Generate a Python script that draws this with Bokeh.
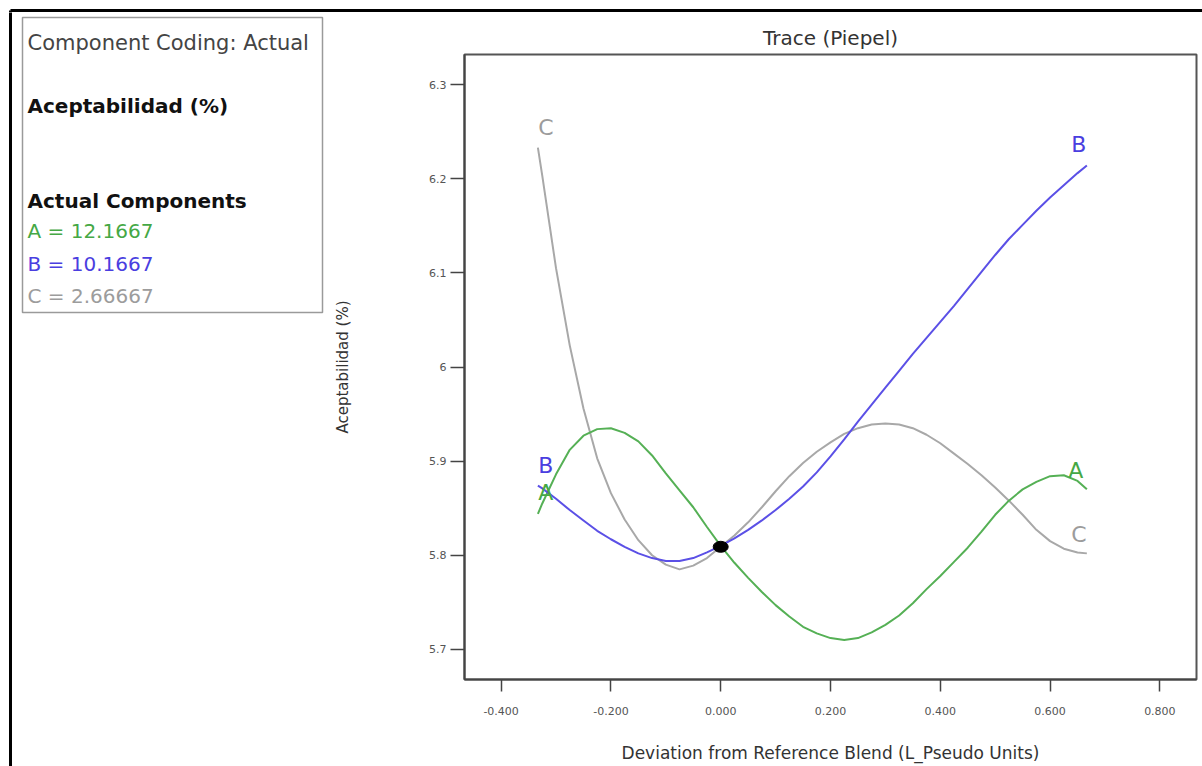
from bokeh.plotting import figure
from bokeh.layouts import column, row
from bokeh.models import (FixedTicker, PrintfTickFormatter, CustomJSTickFormatter,
                          Range1d, ColumnDataSource)
from bokeh.core.properties import value
from bokeh.embed import file_html
from bokeh.resources import INLINE

# ---------------- data ----------------
x_dev = [-0.333, -0.325, -0.300, -0.275, -0.250, -0.225, -0.200, -0.175, -0.150, -0.125,
         -0.100, -0.075, -0.050, -0.025, 0.000, 0.025, 0.050, 0.075, 0.100, 0.125,
         0.150, 0.175, 0.200, 0.225, 0.250, 0.275, 0.300, 0.325, 0.350, 0.375,
         0.400, 0.425, 0.450, 0.475, 0.500, 0.525, 0.550, 0.575, 0.600, 0.625,
         0.650, 0.667]
resp_A = [5.844, 5.855, 5.886, 5.912, 5.927, 5.934, 5.935, 5.930, 5.921, 5.906,
          5.887, 5.869, 5.851, 5.830, 5.810, 5.792, 5.776, 5.761, 5.747, 5.735,
          5.724, 5.717, 5.712, 5.710, 5.712, 5.718, 5.726, 5.736, 5.749, 5.764,
          5.778, 5.793, 5.808, 5.825, 5.843, 5.858, 5.870, 5.878, 5.884, 5.885,
          5.879, 5.870]
resp_B = [5.874, 5.871, 5.860, 5.848, 5.837, 5.826, 5.817, 5.809, 5.802, 5.797,
          5.794, 5.794, 5.797, 5.803, 5.810, 5.818, 5.827, 5.837, 5.848, 5.860,
          5.873, 5.888, 5.905, 5.923, 5.942, 5.960, 5.978, 5.996, 6.014, 6.031,
          6.048, 6.065, 6.083, 6.101, 6.119, 6.136, 6.151, 6.166, 6.180, 6.193,
          6.206, 6.214]
resp_C = [6.233, 6.203, 6.105, 6.023, 5.956, 5.903, 5.866, 5.838, 5.816, 5.800,
          5.790, 5.785, 5.789, 5.797, 5.809, 5.821, 5.835, 5.851, 5.868, 5.884,
          5.898, 5.910, 5.920, 5.929, 5.935, 5.939, 5.940, 5.939, 5.935, 5.928,
          5.919, 5.908, 5.897, 5.885, 5.872, 5.858, 5.843, 5.827, 5.815, 5.807,
          5.803, 5.802]
ref_x = [0.0]
ref_y = [5.809]

x_ticks = [-0.4, -0.2, 0.0, 0.2, 0.4, 0.6, 0.8]
y_ticks = [5.7, 5.8, 5.9, 6.0, 6.1, 6.2, 6.3]

components = ["A", "B", "C"]
actual_values = ["12.1667", "10.1667", "2.66667"]

GREEN = "#55b055"
BLUE = "#5b50e6"
GRAY = "#a8a8a8"
GREEN_T = "#45a845"
BLUE_T = "#4a3ee0"
GRAY_T = "#9c9c9c"
FONT = "DejaVu Sans"

W, H = 1202, 766
STRIP_H = 12
LEFT_W = 330


def blank_fig(w, h, x0, x1, y0, y1):
    f = figure(width=w, height=h, x_range=Range1d(x0, x1), y_range=Range1d(y0, y1),
               output_backend="svg", toolbar_location=None,
               x_axis_location=None, y_axis_location=None,
               min_border=0, min_border_left=0, min_border_right=0,
               min_border_top=0, min_border_bottom=0)
    f.grid.visible = False
    f.outline_line_color = None
    f.background_fill_color = "white"
    f.border_fill_color = "white"
    f.frame_align = False
    return f


# ---------------- top strip: outer border line ----------------
strip = blank_fig(W, STRIP_H, 0, W, STRIP_H, 0)
strip.segment(x0=[10, 10], y0=[10, 10], x1=[W + 5, 10], y1=[10, STRIP_H + 2],
              line_color="black", line_width=3)

# ---------------- left panel: component info box ----------------
info = blank_fig(LEFT_W, H - STRIP_H, 0, LEFT_W, H, STRIP_H)
info.segment(x0=[10], y0=[STRIP_H - 2], x1=[10], y1=[H + 5], line_color="black", line_width=3)
info.quad(left=[22], right=[322], top=[17], bottom=[312], fill_color=None,
          line_color="#9a9a9a", line_width=1.5)
info_src = ColumnDataSource(dict(
    x=[27] * 6,
    y=[42, 105, 200, 230, 263, 295],
    t=["Component Coding: Actual", "Aceptabilidad (%)", "Actual Components"]
      + [f"{c} = {v}" for c, v in zip(components, actual_values)],
    c=["#444444", "#111111", "#111111", GREEN_T, BLUE_T, GRAY_T],
    s=["normal", "bold", "bold", "normal", "normal", "normal"],
    fs=["21px", "20px", "20px", "20px", "20px", "20px"],
))
info.text(x="x", y="y", text="t", text_color="c", text_font_style="s", source=info_src,
          text_align="left", text_baseline="alphabetic", text_font=value(FONT),
          text_font_size="fs")

# ---------------- main trace plot ----------------
p = figure(width=W - LEFT_W, height=H - STRIP_H, x_range=Range1d(-0.4667, 0.8667),
           y_range=Range1d(5.668, 6.332), output_backend="svg", toolbar_location=None,
           title="Trace (Piepel)", min_border_left=464 - LEFT_W, min_border_right=6,
           min_border_top=54 - STRIP_H, min_border_bottom=87)
p.frame_align = False
p.background_fill_color = "white"
p.border_fill_color = "white"
p.grid.visible = False
p.outline_line_color = "#555555"
p.outline_line_width = 2

p.title.align = "center"
p.title.text_font = FONT
p.title.text_font_size = "20px"
p.title.text_font_style = "normal"
p.title.text_color = "#333333"
p.title.standoff = 9

for ax in (p.xaxis[0], p.yaxis[0]):
    ax.axis_line_color = "#444444"
    ax.axis_line_width = 2
    ax.major_tick_line_color = "#444444"
    ax.major_tick_line_width = 1.5
    ax.major_tick_in = 0
    ax.minor_tick_line_color = None
    ax.major_label_text_font = FONT
    ax.major_label_text_font_size = "11px"
    ax.major_label_text_color = "#555555"
    ax.axis_label_text_font = FONT
    ax.axis_label_text_font_style = "normal"
    ax.axis_label_text_color = "#333333"

p.xaxis.ticker = FixedTicker(ticks=x_ticks)
p.xaxis.formatter = PrintfTickFormatter(format="%.3f")
p.xaxis.major_tick_out = 12
p.xaxis.major_label_standoff = 15
p.xaxis.axis_label = "Deviation from Reference Blend (L_Pseudo Units)"
p.xaxis.axis_label_text_font_size = "17px"
p.xaxis.axis_label_standoff = 25

p.yaxis.ticker = FixedTicker(ticks=y_ticks)
p.yaxis.formatter = CustomJSTickFormatter(code="return Number(tick.toFixed(1)).toString();")
p.yaxis.major_tick_out = 14
p.yaxis.major_label_standoff = 4
p.yaxis.axis_label = "Aceptabilidad (%)"
p.yaxis.axis_label_text_font_size = "15px"
p.yaxis.axis_label_standoff = 74

p.line(x_dev, resp_C, line_color=GRAY, line_width=2)
p.line(x_dev, resp_A, line_color=GREEN, line_width=2)
p.line(x_dev, resp_B, line_color=BLUE, line_width=2)

p.ellipse(x=ref_x, y=ref_y, width=15, height=11, width_units="screen",
          height_units="screen", fill_color="black", line_color="black")

lab = ColumnDataSource(dict(
    x=[x_dev[0], x_dev[0], x_dev[0], x_dev[-1], x_dev[-1], x_dev[-1]],
    y=[resp_C[0], resp_B[0], resp_A[0], resp_B[-1], resp_A[-1], resp_C[-1]],
    t=["C", "B", "A", "B", "A", "C"],
    c=[GRAY_T, BLUE_T, GREEN_T, BLUE_T, GREEN_T, GRAY_T],
    dx=[8, 8, 8, -8, -11, -8],
    dy=[-20, -20, -21, -21, -19, -19],
))
p.text(x="x", y="y", text="t", text_color="c", x_offset="dx", y_offset="dy", source=lab,
       text_align="center", text_baseline="middle", text_font=value(FONT),
       text_font_size="22px")

layout = column(strip, row(info, p, spacing=0), spacing=0)
open("out.html", "w").write(file_html(layout, INLINE))
